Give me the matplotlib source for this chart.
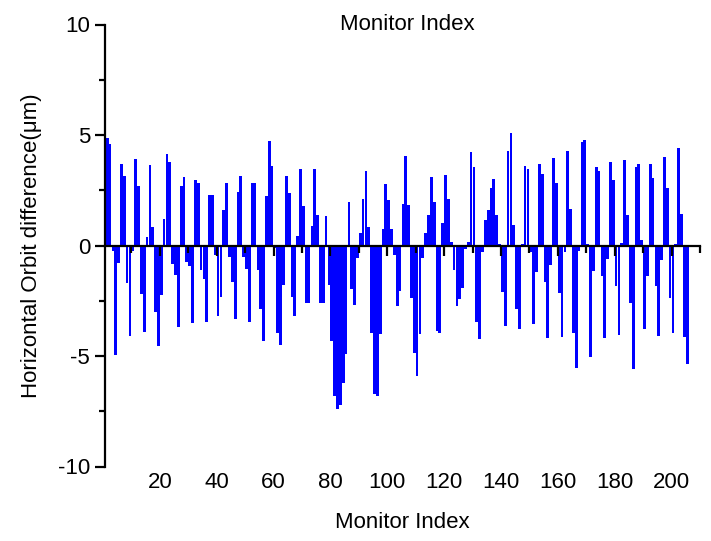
import numpy as np
import matplotlib
matplotlib.use("Agg")
import matplotlib.pyplot as plt
from matplotlib import font_manager
from matplotlib.ticker import MultipleLocator

# Horizontal orbit difference at each beam position monitor (micrometres)
orbit_diff = [
    4.88, 4.60, -0.27, -4.97, -0.80, 3.70, 3.15, -1.70, -4.10, -0.25,
    3.90, 2.68, -2.20, -3.90, 0.40, 3.63, 0.82, -3.00, -4.55, -2.25,
    1.20, 4.12, 3.80, -0.83, -1.35, -3.70, 2.70, 3.08, -0.76, -0.95,
    -3.50, 2.95, 2.85, -1.10, -1.50, -3.45, 2.30, 2.30, -0.45, -3.20,
    -2.35, 1.60, 2.83, -0.53, -1.67, -3.33, 2.42, 3.15, -0.53, -1.06,
    -3.45, 2.85, 2.85, -1.10, -2.88, -4.30, 2.23, 4.73, 3.60, -0.10,
    -3.94, -4.48, -1.80, 3.14, 2.38, -2.35, -3.18, 0.45, 3.45, 1.77,
    -2.60, -2.60, 0.90, 3.48, 1.36, -2.58, -2.58, 1.33, -1.79, -4.30,
    -6.80, -7.40, -7.20, -6.20, -4.92, 1.97, -1.97, -2.68, -0.58, 0.58,
    2.10, 3.38, 0.85, -3.97, -6.74, -6.79, -4.00, 0.73, 2.80, 2.05,
    0.73, -0.45, -2.76, -2.08, 1.90, 4.06, 1.82, -2.38, -4.88, -5.90,
    -4.00, -0.58, 0.58, 1.39, 3.08, 1.97, -3.86, -3.94, 1.00, 3.18,
    2.12, 0.18, -1.09, -2.76, -2.42, -1.94, -0.15, 0.15, 4.24, 3.56,
    -3.48, -4.21, -0.30, 1.14, 1.59, 2.60, 3.03, 1.39, 0.08, -2.12,
    -3.64, 4.29, 5.08, 0.94, -2.88, -3.79, 0.08, 3.59, 3.45, -0.30,
    -3.56, -1.21, 3.68, 3.23, -1.67, -4.17, -0.88, 3.98, 2.83, -2.15,
    -4.12, -0.30, 4.27, 1.67, -3.94, -5.53, -0.23, 4.70, 4.77, 0.05,
    -5.03, -1.14, 3.56, 3.38, -1.39, -4.17, -0.60, 3.79, 2.98, -1.85,
    -4.06, 0.12, 3.89, 1.36, -2.58, -5.60, 3.56, 3.71, 0.26, -3.76,
    -1.36, 3.67, 3.06, -1.82, -4.09, -0.65, 4.02, 2.62, -2.39, -3.98,
    0.05, 4.42, 1.44, -4.14, -5.38,
]
monitor_index = np.arange(1, len(orbit_diff) + 1)

x_tick_labels = [20, 40, 60, 80, 100, 120, 140, 160, 180, 200]
y_ticks = [-10, -5, 0, 5, 10]

# Pick a narrow sans face when available
available = {f.name for f in font_manager.fontManager.ttflist}
if "Liberation Sans Narrow" in available:
    family, fsize = "Liberation Sans Narrow", 19
else:
    family, fsize = "Liberation Sans", 16
plt.rcParams["font.family"] = [family, "DejaVu Sans"]
plt.rcParams["axes.unicode_minus"] = False

W, H = 711, 541
fig = plt.figure(figsize=(W / 100, H / 100), dpi=100)
left, right, top, bottom = 105.3, 700.0, 24.5, 466.5
ax = fig.add_axes([left / W, 1 - bottom / H, (right - left) / W, (bottom - top) / H])

ax.bar(monitor_index, orbit_diff, width=0.96, align="edge",
       color="#0000FF", edgecolor="none", linewidth=0)

ax.set_xlim(0.8, 210)
ax.set_ylim(-10, 10)

# Spines: left axis, and the horizontal axis drawn through zero
for s in ("top", "right"):
    ax.spines[s].set_visible(False)
ax.spines["bottom"].set_position(("data", 0))
ax.spines["bottom"].set_linewidth(1.6)
ax.spines["left"].set_linewidth(1.6)
ax.spines["bottom"].set_zorder(3)

ax.xaxis.set_major_locator(MultipleLocator(20))
ax.xaxis.set_minor_locator(MultipleLocator(10))
ax.tick_params(axis="x", which="major", direction="out", length=7, width=1.6,
               labelbottom=False)
ax.tick_params(axis="x", which="minor", direction="out", length=5, width=1.6)

ax.set_yticks(y_ticks)
ax.yaxis.set_minor_locator(MultipleLocator(2.5))
ax.tick_params(axis="y", which="major", direction="out", length=7, width=1.6,
               labelsize=fsize, pad=4)
ax.tick_params(axis="y", which="minor", direction="out", length=4, width=1.6)

# Index labels along the bottom edge of the plot
sec = ax.secondary_xaxis("bottom")
sec.set_xticks(x_tick_labels)
sec.tick_params(length=0, pad=4, labelsize=fsize)
sec.spines["bottom"].set_visible(False)

ax.set_ylabel("Horizontal Orbit difference(\u03bcm)", fontsize=fsize)
ax.yaxis.set_label_coords(-0.107, 0.5)

cx = (left + right) / 2 / W
fig.text(cx + 0.006, 1 - 25 / H, "Monitor Index", ha="center", va="center", fontsize=fsize)
fig.text(cx, 1 - 523 / H, "Monitor Index", ha="center", va="center", fontsize=fsize)

fig.savefig("out.png", dpi=100)
